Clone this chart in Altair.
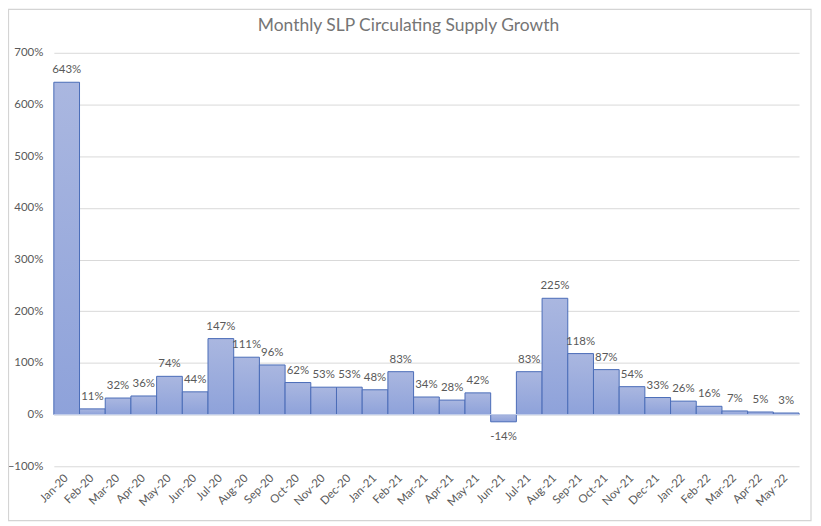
import pandas as pd
import altair as alt

# Monthly growth of SLP circulating supply (%)
months = ["Jan-20", "Feb-20", "Mar-20", "Apr-20", "May-20", "Jun-20", "Jul-20", "Aug-20",
          "Sep-20", "Oct-20", "Nov-20", "Dec-20", "Jan-21", "Feb-21", "Mar-21", "Apr-21",
          "May-21", "Jun-21", "Jul-21", "Aug-21", "Sep-21", "Oct-21", "Nov-21", "Dec-21",
          "Jan-22", "Feb-22", "Mar-22", "Apr-22", "May-22"]
growth = [643, 11, 32, 36, 74, 44, 147, 111, 96, 62, 53, 53, 48, 83, 34, 28,
          42, -14, 83, 225, 118, 87, 54, 33, 26, 16, 7, 5, 3]
y_ticks = [-100, 0, 100, 200, 300, 400, 500, 600, 700]
title = "Monthly SLP Circulating Supply Growth"

df = pd.DataFrame({"month": months, "growth": [g / 100 for g in growth]})
df["label"] = [f"{g}%" for g in growth]

FONT = "Lato"
GREY = "#595959"

x = alt.X("month:N", sort=months, scale=alt.Scale(paddingInner=0, paddingOuter=0),
          axis=alt.Axis(title=None, labelAngle=-45, labelAlign="right", labelBaseline="middle",
                        labelPadding=10, ticks=False, domain=False, labelColor=GREY,
                        labelFontSize=11.5, labelFont=FONT))
y = alt.Y("growth:Q", scale=alt.Scale(domain=[-1, 7], nice=False),
          axis=alt.Axis(title=None, values=[t / 100 for t in y_ticks], format=".0%",
                        ticks=False, domain=False, labelPadding=11, labelColor=GREY,
                        labelFontSize=11.5, labelFont=FONT, gridColor="#d9d9d9"))

bars = alt.Chart(df).mark_bar(
    color=alt.Gradient(gradient="linear",
                       stops=[alt.GradientStop(color="#aab7e0", offset=0),
                              alt.GradientStop(color="#8ea2da", offset=1)],
                       x1=0, x2=0, y1=0, y2=1),
    stroke="#4a6cb8", strokeWidth=1,
).encode(x=x, y=y)

zero = alt.Chart(pd.DataFrame({"z": [0]})).mark_rule(color="#c9d3ec", strokeWidth=1).encode(
    y="z:Q"
)

pos = alt.Chart(df).transform_filter(alt.datum.growth >= 0).mark_text(
    baseline="bottom", dy=-7, fontSize=11.5, font=FONT, color=GREY
).encode(x=alt.X("month:N", sort=months), y="growth:Q", text="label:N")

neg = alt.Chart(df).transform_filter(alt.datum.growth < 0).mark_text(
    baseline="top", dy=9, fontSize=11.5, font=FONT, color=GREY
).encode(x=alt.X("month:N", sort=months), y="growth:Q", text="label:N")

# chart frame and title
border = alt.Chart(pd.DataFrame({"b": [0]})).mark_rect(
    fill=None, stroke="#d4d4d4", strokeWidth=1.2
).encode(x=alt.value(-45.5), x2=alt.value(760), y=alt.value(-43.5), y2=alt.value(469.5))

heading = alt.Chart(pd.DataFrame({"t": [title]})).mark_text(
    fontSize=17.5, font=FONT, color="#757575", baseline="middle", align="center"
).encode(x=alt.value(356), y=alt.value(-27), text="t:N")

chart = alt.layer(border, bars, zero, pos, neg, heading).properties(
    width=748, height=415,
    autosize=alt.AutoSizeParams(type="none"),
    padding={"left": 46, "top": 44, "right": 14, "bottom": 59},
).configure_view(stroke=None)

chart.save("out.html", embed_options={"renderer": "svg", "actions": False})
